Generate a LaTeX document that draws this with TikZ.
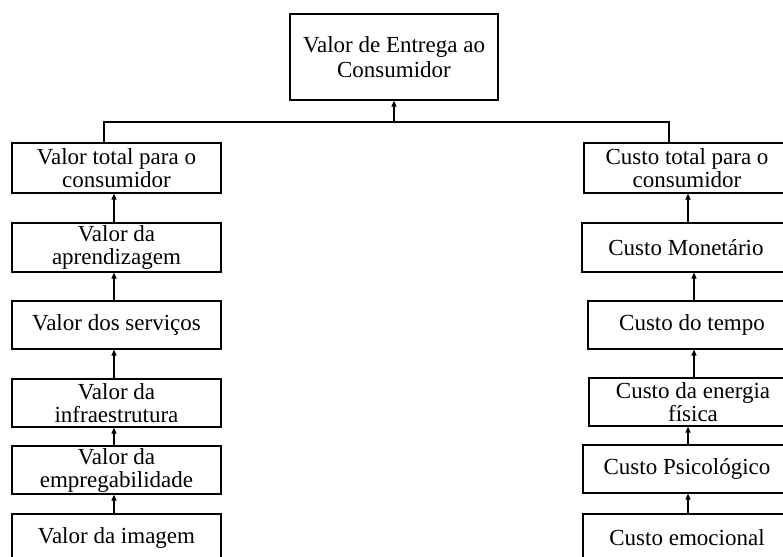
\documentclass[tikz,border=0pt]{standalone}
\usepackage{fontspec}
\setmainfont{Liberation Serif}
\usetikzlibrary{arrows.meta}
\begin{document}
\begin{tikzpicture}[x=1pt,y=-1pt,
  box/.style={draw,line width=1.2pt,inner sep=0pt,align=center,
    minimum width=208pt,minimum height=48pt,font=\fontsize{23}{23}\selectfont},
  arr/.style={line width=1.2pt,-{Triangle[length=6pt,width=5pt]}},
  ln/.style={line width=1.2pt}]
\useasboundingbox (0,0) rectangle (783,556);
\clip (0,0) rectangle (783,556);
% top
\node[box,minimum height=86pt,font=\fontsize{23}{25}\selectfont] (top) at (394,57) {Valor de Entrega ao\\Consumidor};
% left column
\node[box,minimum width=209pt,minimum height=50pt] (L1) at (116.5,168) {Valor total para o\\consumidor};
\node[box,minimum width=209pt,minimum height=49pt] (L2) at (116.5,247.5) {Valor da\\aprendizagem};
\node[box,minimum width=209pt] (L3) at (116.5,325) {Valor dos serviços};
\node[box,minimum width=209pt] (L4) at (116.5,403) {Valor da\\infraestrutura};
\node[box,minimum width=209pt] (L5) at (116.5,470) {Valor da\\empregabilidade};
\node[box,minimum width=209pt] (L6) at (116.5,538) {Valor da imagem};
% right column
\node[box,minimum width=206pt,minimum height=50pt] (R1) at (687,168) {Custo total para o\\consumidor};
\node[box,minimum height=49pt] (R2) at (686,247.5) {Custo Monetário};
\node[box] (R3) at (692,325) {Custo do tempo};
\node[box] (R4) at (693,402) {Custo da energia\\física};
\node[box] (R5) at (687,469) {Custo Psicológico};
\node[box] (R6) at (687,538) {Custo emocional};
% helper coordinates
\coordinate (lj) at (104,122);
\coordinate (rj) at (669,122);
\coordinate (j) at (394,122);
\coordinate (ax) at (114,0);
\coordinate (bx) at (688,0);
\coordinate (cx) at (694,0);
% top connectors
\draw[ln] (lj |- L1.north) -- (lj) -- (rj) -- (rj |- R1.north);
\draw[arr] (j) -- (top.south);
% left arrows
\draw[arr] (L2.north -| ax) -- (L1.south -| ax);
\draw[arr] (L3.north -| ax) -- (L2.south -| ax);
\draw[arr] (L4.north -| ax) -- (L3.south -| ax);
\draw[arr] (L5.north -| ax) -- (L4.south -| ax);
\draw[arr] (L6.north -| ax) -- (L5.south -| ax);
% right arrows
\draw[arr] (R2.north -| bx) -- (R1.south -| bx);
\draw[arr] (R3.north -| cx) -- (R2.south -| cx);
\draw[arr] (R4.north -| cx) -- (R3.south -| cx);
\draw[arr] (R5.north -| bx) -- (R4.south -| bx);
\draw[arr] (R6.north -| bx) -- (R5.south -| bx);
\end{tikzpicture}
\end{document}
